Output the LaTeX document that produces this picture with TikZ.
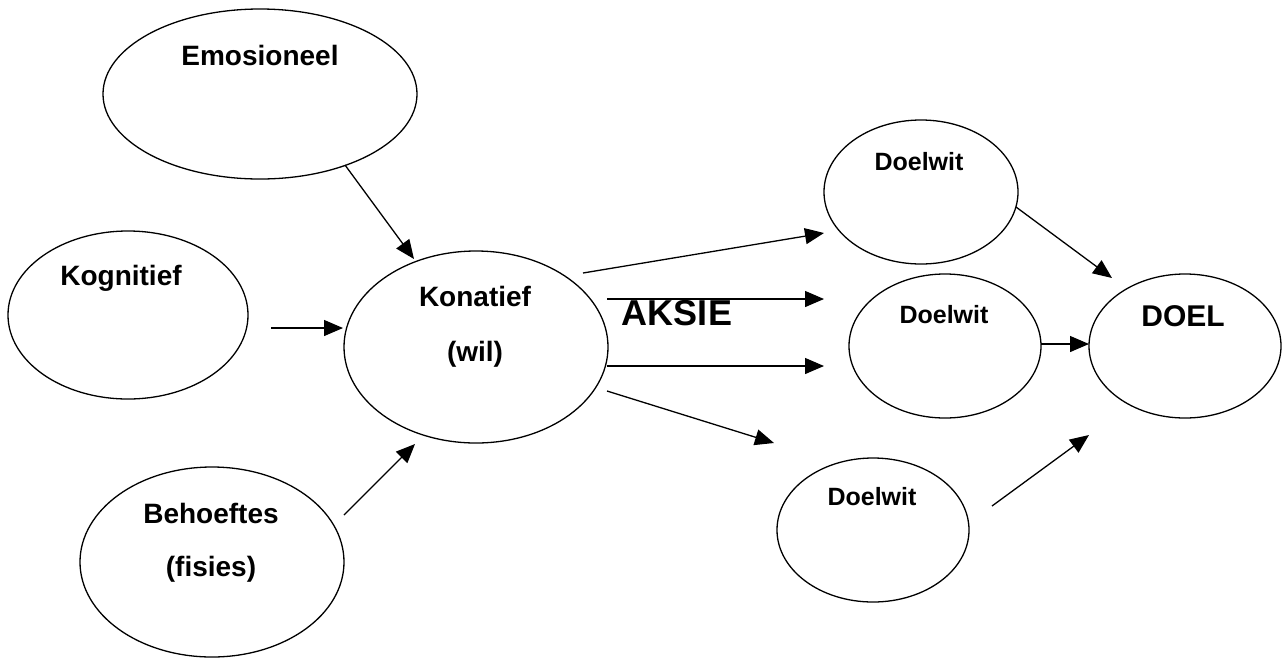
\documentclass[tikz,border=0pt]{standalone}
\usepackage{fontspec}
\setmainfont{Liberation Sans}
\usetikzlibrary{shapes.geometric,arrows.meta}
\tikzset{
  oval/.style={draw, ellipse, line width=1.3pt, inner sep=0pt},
  lbl/.style={font=\bfseries\fontsize{28}{30}\selectfont, text height=0.72em, text depth=0pt, inner sep=0pt},
  slbl/.style={font=\bfseries\fontsize{25}{27}\selectfont, text height=0.72em, text depth=0pt, inner sep=0pt},
  conn/.style={line width=1.3pt, -{Triangle[length=19pt,width=16pt]}},
}
\begin{document}
\begin{tikzpicture}[x=1pt,y=-1pt]
\useasboundingbox (0,0) rectangle (1282,657);
% ellipses
\node[oval, minimum width=314pt, minimum height=170pt] (emo) at (260,94) {};
\node[oval, minimum width=240pt, minimum height=168pt] (kog) at (128,315) {};
\node[oval, minimum width=264pt, minimum height=190pt] (beh) at (212,562) {};
\node[oval, minimum width=264pt, minimum height=192pt] (kon) at (476,347) {};
\node[oval, minimum width=194pt, minimum height=144pt] (dt) at (921,192) {};
\node[oval, minimum width=192pt, minimum height=144pt] (dm) at (945,346) {};
\node[oval, minimum width=192pt, minimum height=144pt] (db) at (873,530) {};
\node[oval, minimum width=192pt, minimum height=144pt] (doel) at (1185,346) {};
% texts
\node[lbl] (temo) at (260,62) {Emosioneel};
\node[lbl] (tkog) at (121,282) {Kognitief};
\node[lbl] (tkon1) at (475,303) {Konatief};
\node[lbl] (tkon2) at (475,358) {(wil)};
\node[lbl] (tbeh1) at (211,520) {Behoeftes};
\node[lbl] (tbeh2) at (211,573) {(fisies)};
\node[font=\bfseries\fontsize{36}{38}\selectfont, text height=0.72em, text depth=0pt, inner sep=0pt] (aksie) at (677,322) {AKSIE};
\node[slbl] (tdt) at (919,167) {Doelwit};
\node[slbl] (tdm) at (944,320) {Doelwit};
\node[slbl] (tdb) at (872,502) {Doelwit};
\node[font=\bfseries\fontsize{30}{32}\selectfont, text height=0.72em, text depth=0pt, inner sep=0pt] (tdoel) at (1183,323) {DOEL};
% connector end points
\coordinate (a1s) at (345,165); \coordinate (a1e) at (414,259);
\coordinate (a2s) at (271,328); \coordinate (a2e) at (343,328);
\coordinate (a3s) at (344,515); \coordinate (a3e) at (415,444);
\coordinate (a4s) at (583,273); \coordinate (a4e) at (824,233);
\coordinate (a5s) at (607,299); \coordinate (a5e) at (824,299);
\coordinate (a6s) at (607,366); \coordinate (a6e) at (824,366);
\coordinate (a7s) at (607,391); \coordinate (a7e) at (774,443);
\coordinate (a8s) at (1016,207); \coordinate (a8e) at (1112,278);
\coordinate (a9s) at (1041,344); \coordinate (a9e) at (1089,344);
\coordinate (a10s) at (992,506); \coordinate (a10e) at (1089,435);
\foreach \i in {1,...,10} { \draw[conn] (a\i s) -- (a\i e); }
\end{tikzpicture}
\end{document}
